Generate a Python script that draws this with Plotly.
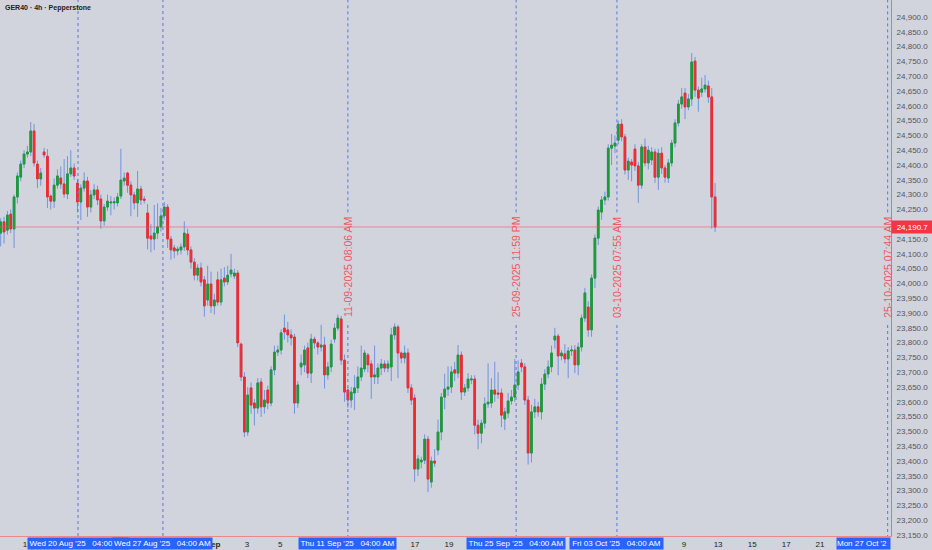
import plotly.graph_objects as go

# ---------------- data (GER40, 4h candles) ----------------
OPEN = [24170, 24208, 24180, 24234, 24184, 24292, 24359, 24403, 24437, 24444,
        24515, 24403, 24353, 24444, 24430, 24295, 24278, 24332, 24356, 24336,
        24302, 24370, 24390, 24339, 24275, 24322, 24346, 24258, 24299, 24316,
        24285, 24211, 24258, 24272, 24272, 24272, 24295, 24346, 24373, 24332,
        24299, 24272, 24319, 24285, 24238, 24160, 24150, 24170, 24191, 24228,
        24258, 24150, 24120, 24110, 24113, 24123, 24167, 24113, 24072, 24028,
        24052, 24012, 23944, 23998, 23924, 24012, 23937, 24018, 24005, 24032,
        24025, 24035, 23795, 23684, 23498, 23647, 23596, 23579, 23667, 23583,
        23640, 23596, 23708, 23768, 23775, 23849, 23843, 23826, 23819, 23596,
        23718, 23725, 23782, 23697, 23812, 23799, 23785, 23792, 23691, 23718,
        23812, 23849, 23880, 23741, 23640, 23606, 23630, 23647, 23684, 23711,
        23758, 23728, 23684, 23684, 23714, 23728, 23714, 23718, 23826, 23853,
        23765, 23748, 23765, 23647, 23613, 23373, 23397, 23403, 23474, 23329,
        23400, 23437, 23498, 23616, 23643, 23650, 23708, 23697, 23758, 23633,
        23647, 23674, 23677, 23521, 23494, 23528, 23593, 23596, 23640, 23630,
        23630, 23542, 23562, 23603, 23616, 23657, 23731, 23718, 23606, 23427,
        23566, 23583, 23566, 23660, 23694, 23718, 23809, 23822, 23755, 23762,
        23745, 23772, 23775, 23725, 23785, 23883, 23920, 23843, 24018, 24153,
        24241, 24282, 24292, 24457, 24464, 24484, 24538, 24495, 24383, 24410,
        24454, 24397, 24332, 24461, 24407, 24417, 24444, 24359, 24440, 24390,
        24356, 24407, 24474, 24542, 24606, 24643, 24596, 24623, 24751, 24653,
        24646, 24657, 24667, 24630, 24292]
HIGH = [24220, 24225, 24245, 24250, 24300, 24375, 24415, 24450, 24465, 24545,
        24538, 24415, 24390, 24458, 24454, 24300, 24355, 24385, 24395, 24420,
        24430, 24450, 24405, 24352, 24335, 24375, 24360, 24315, 24335, 24330,
        24300, 24268, 24300, 24295, 24290, 24305, 24455, 24375, 24377, 24345,
        24310, 24380, 24330, 24295, 24268, 24200, 24265, 24270, 24255, 24275,
        24268, 24160, 24130, 24125, 24135, 24210, 24185, 24125, 24085, 24065,
        24070, 24025, 24060, 24040, 23965, 24040, 24050, 24055, 24060, 24100,
        24050, 24045, 23800, 23700, 23650, 23665, 23610, 23680, 23680, 23640,
        23655, 23720, 23790, 23790, 23845, 23895, 23870, 23845, 23830, 23670,
        23760, 23790, 23800, 23830, 23820, 23805, 23860, 23820, 23735, 23810,
        23865, 23895, 23890, 23760, 23650, 23650, 23690, 23720, 23790, 23775,
        23765, 23740, 23790, 23730, 23745, 23740, 23740, 23850, 23865, 23860,
        23770, 23790, 23780, 23660, 23625, 23420, 23415, 23490, 23485, 23415,
        23440, 23540, 23630, 23695, 23720, 23720, 23735, 23792, 23770, 23660,
        23697, 23690, 23690, 23540, 23540, 23615, 23730, 23680, 23735, 23700,
        23645, 23580, 23630, 23640, 23745, 23740, 23745, 23730, 23620, 23590,
        23610, 23600, 23680, 23710, 23740, 23790, 23850, 23830, 23775, 23795,
        23785, 23790, 23792, 23800, 23895, 23985, 23940, 24030, 24165, 24260,
        24295, 24310, 24470, 24505, 24500, 24550, 24555, 24505, 24425, 24420,
        24470, 24410, 24470, 24490, 24465, 24460, 24455, 24455, 24460, 24400,
        24420, 24485, 24555, 24620, 24660, 24660, 24640, 24778, 24765, 24665,
        24695, 24704, 24685, 24660, 24339]
LOW = [24125, 24135, 24165, 24170, 24120, 24270, 24345, 24390, 24425, 24430,
       24395, 24322, 24330, 24425, 24255, 24250, 24255, 24320, 24320, 24290,
       24285, 24360, 24350, 24240, 24214, 24310, 24225, 24240, 24285, 24265,
       24185, 24195, 24245, 24230, 24250, 24260, 24285, 24330, 24306, 24227,
       24250, 24225, 24265, 24270, 24115, 24105, 24113, 24150, 24175, 24215,
       24120, 24080, 24085, 24095, 24098, 24110, 24095, 24050, 24010, 24010,
       23990, 23888, 23925, 23900, 23895, 23925, 23925, 23990, 23995, 24020,
       24015, 23785, 23670, 23481, 23485, 23560, 23520, 23560, 23549, 23560,
       23575, 23585, 23690, 23755, 23760, 23810, 23800, 23790, 23560, 23580,
       23690, 23700, 23680, 23664, 23780, 23760, 23770, 23645, 23675, 23700,
       23800, 23840, 23725, 23600, 23580, 23580, 23572, 23630, 23670, 23700,
       23700, 23610, 23660, 23660, 23690, 23700, 23700, 23670, 23810, 23680,
       23730, 23730, 23630, 23590, 23330, 23350, 23375, 23390, 23295, 23310,
       23380, 23420, 23470, 23575, 23620, 23630, 23670, 23680, 23606, 23620,
       23635, 23660, 23490, 23440, 23460, 23510, 23580, 23580, 23600, 23610,
       23515, 23505, 23545, 23590, 23600, 23640, 23700, 23590, 23388, 23395,
       23545, 23550, 23540, 23640, 23680, 23700, 23780, 23690, 23740, 23730,
       23680, 23755, 23697, 23690, 23770, 23870, 23820, 23820, 23985, 24130,
       24215, 24265, 24280, 24400, 24440, 24470, 24480, 24368, 24350, 24345,
       24380, 24272, 24320, 24395, 24385, 24400, 24340, 24316, 24370, 24340,
       24340, 24395, 24460, 24530, 24590, 24555, 24585, 24600, 24630, 24580,
       24630, 24645, 24610, 24185, 24174]
CLOSE = [24208, 24174, 24231, 24184, 24292, 24363, 24403, 24437, 24444, 24515,
         24407, 24353, 24373, 24434, 24292, 24278, 24332, 24363, 24336, 24302,
         24370, 24390, 24363, 24275, 24322, 24346, 24258, 24299, 24316, 24282,
         24211, 24258, 24278, 24275, 24276, 24292, 24349, 24356, 24332, 24299,
         24272, 24319, 24282, 24281, 24153, 24150, 24170, 24191, 24228, 24258,
         24150, 24113, 24110, 24116, 24123, 24170, 24113, 24072, 24028, 24052,
         24005, 23924, 23998, 23924, 23944, 23937, 24012, 24005, 24028, 24045,
         24035, 23799, 23684, 23498, 23623, 23589, 23579, 23664, 23583, 23606,
         23596, 23708, 23768, 23775, 23833, 23836, 23826, 23816, 23596, 23657,
         23731, 23775, 23697, 23812, 23799, 23785, 23792, 23691, 23718, 23795,
         23849, 23883, 23741, 23633, 23606, 23633, 23647, 23684, 23714, 23765,
         23725, 23684, 23691, 23714, 23728, 23714, 23728, 23826, 23853, 23765,
         23748, 23765, 23647, 23606, 23373, 23407, 23403, 23474, 23339, 23400,
         23393, 23498, 23616, 23643, 23650, 23701, 23697, 23758, 23633, 23647,
         23677, 23677, 23521, 23494, 23528, 23593, 23599, 23640, 23626, 23626,
         23555, 23566, 23603, 23616, 23657, 23701, 23718, 23606, 23427, 23566,
         23583, 23566, 23660, 23694, 23718, 23765, 23822, 23755, 23765, 23745,
         23772, 23775, 23725, 23785, 23883, 23968, 23843, 24018, 24153, 24248,
         24282, 24292, 24457, 24467, 24474, 24538, 24495, 24383, 24413, 24400,
         24397, 24332, 24461, 24407, 24450, 24444, 24359, 24440, 24390, 24359,
         24407, 24474, 24542, 24606, 24630, 24596, 24623, 24748, 24653, 24626,
         24657, 24670, 24630, 24292, 24190.7]

DAY_TICK_TEXT = ["1", "<b>Sep</b>", "3", "5", "17", "19", "9", "13", "15", "17", "21"]
DATE_BOX_TEXT = ["Wed 20 Aug '25   04:00 AM", "Wed 27 Aug '25   04:00 AM",
                 "Thu 11 Sep '25   04:00 AM", "Thu 25 Sep '25   04:00 AM",
                 "Fri 03 Oct '25   04:00 AM"]
LAST_BOX_TEXT = "Mon 27 Oct '2"
MARKER_TEXT = ["11-09-2025 08:06 AM", "25-09-2025 11:59 PM",
               "03-10-2025 07:55 AM", "25-10-2025 07:44 AM"]
LAST_PRICE = 24190.7
TITLE = "GER40 · 4h · Pepperstone"

# ---------------- layout helpers (positions in candle-index units) ----------------
day_tick_pos = [7.28, 63.6, 73.8, 83.7, 124.1, 134.3, 204.7, 214.9, 225.1, 235.3, 245.4]
box_pos = [23.16, 48.6, 104.0, 154.4, 184.6]
box_w = [100, 99, 97, 98, 93]
plain_lines = [23.16, 48.6]
text_lines = [104.0, 154.4, 184.6, 265.7]

BG = "#d1d4dc"
GREEN = "#1f9a36"
RED = "#f22b2b"
WICK = "#7393dc"
DASH = "#5a78d2"
FONT = "Liberation Sans, Arial, sans-serif"

n = len(CLOSE)
xs = list(range(n))
body_hi = [max(o, c) for o, c in zip(OPEN, CLOSE)]
body_lo = [min(o, c) for o, c in zip(OPEN, CLOSE)]

fig = go.Figure()
fig.add_trace(go.Candlestick(
    x=xs, open=OPEN, high=HIGH, low=LOW, close=CLOSE,
    increasing=dict(line=dict(color=WICK, width=1), fillcolor="rgba(0,0,0,0)"),
    decreasing=dict(line=dict(color=WICK, width=1), fillcolor="rgba(0,0,0,0)"),
    whiskerwidth=0, hoverinfo="skip", showlegend=False))
fig.add_trace(go.Candlestick(
    x=xs, open=OPEN, high=body_hi, low=body_lo, close=CLOSE,
    increasing=dict(line=dict(color=GREEN, width=1), fillcolor=GREEN),
    decreasing=dict(line=dict(color=RED, width=1), fillcolor=RED),
    whiskerwidth=0, showlegend=False))

shapes = []
for xv in plain_lines:
    shapes.append(dict(type="line", xref="x", yref="paper", x0=xv, x1=xv, y0=0, y1=1,
                       line=dict(color=DASH, width=1, dash="3px,3px")))
for xv in text_lines:
    shapes.append(dict(type="line", xref="x", yref="y", x0=xv, x1=xv, y0=24240, y1=24960,
                       line=dict(color=DASH, width=1, dash="3px,3px")))
    shapes.append(dict(type="line", xref="x", yref="y", x0=xv, x1=xv, y0=23140, y1=23870,
                       line=dict(color=DASH, width=1, dash="3px,3px")))
shapes.append(dict(type="line", xref="paper", yref="y", x0=0, x1=1, y0=LAST_PRICE, y1=LAST_PRICE,
                   line=dict(color="rgba(240,80,90,0.55)", width=1)))

ann = []
ann.append(dict(text="<b>" + TITLE + "</b>", xref="paper", yref="paper", x=0, y=1,
                xanchor="left", yanchor="top", xshift=3, yshift=-2, showarrow=False,
                font=dict(size=7, color="#222", family=FONT)))
for xv, t in zip(text_lines, MARKER_TEXT):
    ann.append(dict(text=t, x=xv, y=24055, xref="x", yref="y", textangle=-90,
                    showarrow=False, font=dict(size=10.5, color="#ef5864", family=FONT)))
for xv, t, w in zip(box_pos, DATE_BOX_TEXT, box_w):
    ann.append(dict(text=t, x=xv, y=0, xref="x", yref="paper", yanchor="top", yshift=-1,
                    width=w, height=11, bgcolor="#2962ff", borderpad=0, showarrow=False,
                    font=dict(size=8, color="white", family=FONT)))
ann.append(dict(text=LAST_BOX_TEXT, x=1, y=0, xref="paper", yref="paper", xanchor="right",
                yanchor="top", yshift=-1, width=53, height=11, align="left", bgcolor="#2962ff",
                borderpad=0, showarrow=False, font=dict(size=8, color="white", family=FONT)))
ann.append(dict(text=f"{LAST_PRICE:,.1f}", x=1, y=LAST_PRICE, xref="paper", yref="y",
                xanchor="left", yanchor="middle", width=41, height=12, bgcolor="#f23645",
                borderpad=0, showarrow=False, font=dict(size=8, color="white", family=FONT)))

fig.update_layout(
    width=932, height=550, margin=dict(l=0, r=41, t=0, b=14),
    paper_bgcolor=BG, plot_bgcolor=BG, showlegend=False,
    boxgap=0.5, boxgroupgap=0,
    font=dict(family=FONT),
    shapes=shapes, annotations=ann,
    xaxis=dict(range=[-0.21, 266.7], rangeslider=dict(visible=False), showgrid=False,
               zeroline=False, tickmode="array", tickvals=day_tick_pos, ticktext=DAY_TICK_TEXT,
               ticks="", tickfont=dict(size=8, color="#222"), showline=True,
               linecolor="#e88a8a", linewidth=1),
    yaxis=dict(side="right", range=[23146.8, 24957.4], dtick=50, tick0=0, tickformat=",.1f",
               showgrid=False, zeroline=False, ticks="", tickfont=dict(size=8, color="#555"),
               ticklabelstandoff=3,
               showline=True, linecolor="#e87070", linewidth=1),
)

fig.write_html("out.html", config={"displayModeBar": False},
               post_script="document.body.style.margin='0px';document.body.style.overflow='hidden';")
